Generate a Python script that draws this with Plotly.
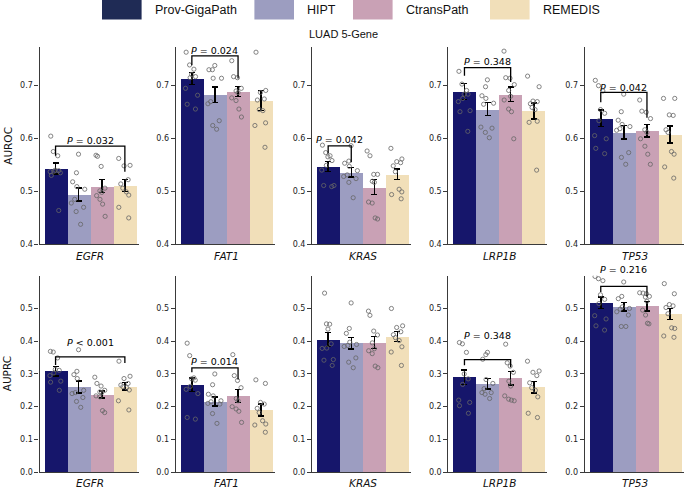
import plotly.graph_objects as go

# ---------------- data ----------------
GENES = ["EGFR", "FAT1", "KRAS", "LRP1B", "TP53"]
MODELS = ["Prov-GigaPath", "HIPT", "CtransPath", "REMEDIS"]
TITLE = "LUAD 5-Gene"

AUROC_MEAN = [
    [0.543, 0.494, 0.510, 0.511],
    [0.7125, 0.682, 0.688, 0.671],
    [0.5466, 0.536, 0.508, 0.5323],
    [0.688, 0.655, 0.683, 0.6516],
    [0.638, 0.611, 0.614, 0.607],
]
AUROC_SEM = [
    [0.010, 0.012, 0.012, 0.011],
    [0.0116, 0.0147, 0.009, 0.019],
    [0.0093, 0.0087, 0.0143, 0.0102],
    [0.0147, 0.0125, 0.0137, 0.015],
    [0.0155, 0.0127, 0.0118, 0.016],
]
AUPRC_MEAN = [
    [0.3085, 0.260, 0.237, 0.262],
    [0.267, 0.2157, 0.233, 0.1895],
    [0.405, 0.394, 0.396, 0.414],
    [0.290, 0.270, 0.287, 0.260],
    [0.518, 0.505, 0.507, 0.483],
]
AUPRC_SEM = [
    [0.015, 0.018, 0.011, 0.0116],
    [0.021, 0.0136, 0.020, 0.018],
    [0.021, 0.0176, 0.0186, 0.015],
    [0.0227, 0.0156, 0.020, 0.0176],
    [0.0176, 0.0126, 0.015, 0.017],
]

# per-fold values (gene -> model -> folds)
AUROC_FOLDS = {
    "EGFR": [
        [0.604, 0.575, 0.567, 0.540, 0.539, 0.538, 0.537, 0.535, 0.530, 0.464],
        [0.570, 0.535, 0.518, 0.509, 0.504, 0.485, 0.478, 0.470, 0.462, 0.438],
        [0.568, 0.566, 0.547, 0.506, 0.501, 0.498, 0.492, 0.485, 0.476, 0.453],
        [0.562, 0.549, 0.548, 0.522, 0.514, 0.506, 0.499, 0.493, 0.470, 0.450],
    ],
    "FAT1": [
        [0.762, 0.738, 0.730, 0.720, 0.716, 0.714, 0.694, 0.681, 0.664, 0.655],
        [0.737, 0.729, 0.729, 0.713, 0.713, 0.669, 0.665, 0.633, 0.624, 0.617],
        [0.746, 0.716, 0.714, 0.694, 0.689, 0.686, 0.676, 0.671, 0.655, 0.640],
        [0.762, 0.690, 0.686, 0.674, 0.672, 0.654, 0.652, 0.629, 0.624, 0.583],
    ],
    "KRAS": [
        [0.587, 0.573, 0.567, 0.565, 0.558, 0.549, 0.540, 0.511, 0.511, 0.509],
        [0.586, 0.557, 0.553, 0.547, 0.539, 0.531, 0.528, 0.524, 0.517, 0.488],
        [0.576, 0.567, 0.532, 0.532, 0.519, 0.517, 0.480, 0.478, 0.450, 0.448],
        [0.581, 0.561, 0.556, 0.554, 0.548, 0.537, 0.504, 0.499, 0.494, 0.486],
    ],
    "LRP1B": [
        [0.726, 0.702, 0.690, 0.683, 0.683, 0.675, 0.669, 0.652, 0.650, 0.613],
        [0.710, 0.697, 0.680, 0.675, 0.666, 0.664, 0.621, 0.619, 0.611, 0.601],
        [0.764, 0.714, 0.713, 0.701, 0.690, 0.679, 0.672, 0.655, 0.650, 0.599],
        [0.717, 0.697, 0.670, 0.669, 0.665, 0.658, 0.654, 0.632, 0.630, 0.540],
    ],
    "TP53": [
        [0.709, 0.699, 0.689, 0.654, 0.647, 0.633, 0.605, 0.599, 0.581, 0.571],
        [0.683, 0.650, 0.634, 0.626, 0.622, 0.618, 0.615, 0.573, 0.564, 0.551],
        [0.672, 0.651, 0.637, 0.649, 0.616, 0.611, 0.599, 0.585, 0.570, 0.551],
        [0.675, 0.675, 0.644, 0.643, 0.616, 0.611, 0.575, 0.570, 0.546, 0.525],
    ],
}
AUPRC_FOLDS = {
    "EGFR": [
        [0.369, 0.367, 0.349, 0.314, 0.311, 0.303, 0.295, 0.278, 0.275, 0.250],
        [0.374, 0.308, 0.298, 0.286, 0.250, 0.243, 0.240, 0.228, 0.216, 0.198],
        [0.290, 0.271, 0.263, 0.250, 0.245, 0.243, 0.233, 0.230, 0.188, 0.182],
        [0.339, 0.293, 0.286, 0.271, 0.266, 0.261, 0.258, 0.251, 0.218, 0.190],
    ],
    "FAT1": [
        [0.394, 0.356, 0.288, 0.285, 0.281, 0.262, 0.253, 0.240, 0.167, 0.162],
        [0.300, 0.267, 0.238, 0.233, 0.218, 0.215, 0.210, 0.208, 0.179, 0.149],
        [0.359, 0.295, 0.280, 0.258, 0.225, 0.218, 0.200, 0.193, 0.186, 0.152],
        [0.282, 0.271, 0.213, 0.208, 0.195, 0.182, 0.157, 0.147, 0.144, 0.122],
    ],
    "KRAS": [
        [0.547, 0.453, 0.452, 0.437, 0.392, 0.379, 0.378, 0.344, 0.342, 0.326],
        [0.517, 0.439, 0.424, 0.397, 0.390, 0.387, 0.384, 0.349, 0.336, 0.319],
        [0.492, 0.479, 0.431, 0.419, 0.395, 0.377, 0.371, 0.362, 0.324, 0.319],
        [0.500, 0.447, 0.442, 0.429, 0.420, 0.411, 0.402, 0.383, 0.367, 0.326],
    ],
    "LRP1B": [
        [0.396, 0.392, 0.366, 0.300, 0.285, 0.268, 0.220, 0.213, 0.203, 0.180],
        [0.366, 0.359, 0.345, 0.283, 0.271, 0.255, 0.243, 0.243, 0.238, 0.225],
        [0.391, 0.334, 0.324, 0.305, 0.278, 0.263, 0.233, 0.223, 0.220, 0.218],
        [0.339, 0.309, 0.305, 0.295, 0.273, 0.258, 0.250, 0.230, 0.180, 0.167],
    ],
    "TP53": [
        [0.598, 0.591, 0.585, 0.542, 0.528, 0.515, 0.478, 0.468, 0.447, 0.434],
        [0.581, 0.537, 0.530, 0.505, 0.500, 0.498, 0.490, 0.480, 0.445, 0.445],
        [0.548, 0.547, 0.545, 0.537, 0.535, 0.522, 0.495, 0.480, 0.455, 0.453],
        [0.576, 0.545, 0.512, 0.508, 0.503, 0.484, 0.441, 0.439, 0.416, 0.412],
    ],
}

# significance brackets: gene, model i, model j, left leg end, bracket level, right leg end, label, label level
AUROC_BRACKETS = [
    ("EGFR", 0, 3, 0.567, 0.585, 0.537, "<i>P</i> = 0.032", 0.596),
    ("FAT1", 0, 2, 0.7375, 0.755, 0.7125, "<i>P</i> = 0.024", 0.7656),
    ("KRAS", 0, 1, 0.5714, 0.5857, 0.5547, "<i>P</i> = 0.042", 0.5975),
    ("LRP1B", 0, 2, 0.7175, 0.733, 0.706, "<i>P</i> = 0.348", 0.744),
    ("TP53", 0, 2, 0.6677, 0.6863, 0.6385, "<i>P</i> = 0.042", 0.6957),
]
AUPRC_BRACKETS = [
    ("EGFR", 0, 3, 0.3276, 0.352, 0.3337, "<i>P</i> &lt; 0.001", 0.396),
    ("FAT1", 0, 2, 0.3054, 0.3185, 0.283, "<i>P</i> = 0.014", 0.3387),
    ("LRP1B", 0, 2, 0.3266, 0.3438, 0.3206, "<i>P</i> = 0.348", 0.417),
    ("TP53", 0, 2, 0.5504, 0.5675, 0.537, "<i>P</i> = 0.216", 0.618),
]

# ---------------- style ----------------
BAR_COLORS = ["#16166b", "#9c9dc1", "#c9a1b5", "#f1dfb9"]
LEGEND_COLORS = ["#1f2b55", "#9c9dc0", "#c9a1b5", "#f1dfb9"]
W, H = 688, 491
FONT = "DejaVu Sans"
LFONT = "Liberation Sans, Arial, sans-serif"
AX_COLOR = "#3a3a3a"

PANEL_X0, PANEL_STEP, PANEL_W = 39.5, 136.3, 99.0
ROWS = [
    dict(metric="AUROC", means=AUROC_MEAN, sems=AUROC_SEM, folds=AUROC_FOLDS,
         brackets=AUROC_BRACKETS, top=47.0, bottom=247.0, yrange=[0.4, 0.7727],
         ticks=[0.4, 0.5, 0.6, 0.7], label_y=259.0),
    dict(metric="AUPRC", means=AUPRC_MEAN, sems=AUPRC_SEM, folds=AUPRC_FOLDS,
         brackets=AUPRC_BRACKETS, top=278.6, bottom=477.0, yrange=[0.0, 0.6],
         ticks=[0.0, 0.1, 0.2, 0.3, 0.4, 0.5], label_y=487.5),
]
XRANGE = [-0.695, 3.59]

fig = go.Figure()
layout = {}
annotations = []
shapes = []

for r, row in enumerate(ROWS):
    y_lo, y_hi = row["yrange"]
    for c, gene in enumerate(GENES):
        n = r * 5 + c + 1
        xa = "x" if n == 1 else f"x{n}"
        ya = "y" if n == 1 else f"y{n}"
        xk = "xaxis" if n == 1 else f"xaxis{n}"
        yk = "yaxis" if n == 1 else f"yaxis{n}"
        x0 = PANEL_X0 + PANEL_STEP * c
        layout[xk] = dict(
            domain=[x0 / W, (x0 + PANEL_W) / W], range=XRANGE, anchor=ya,
            showline=True, linecolor=AX_COLOR, linewidth=1.2, ticks="",
            showticklabels=False, showgrid=False, zeroline=False, fixedrange=True,
        )
        layout[yk] = dict(
            domain=[1 - row["bottom"] / H, 1 - row["top"] / H], range=row["yrange"],
            anchor=xa, showline=True, linecolor=AX_COLOR, linewidth=1.2,
            ticks="outside", ticklen=4, tickwidth=1, tickcolor=AX_COLOR,
            tickvals=row["ticks"], tickformat=".1f",
            tickfont=dict(family=FONT, size=8, color="#222"),
            showgrid=False, zeroline=False, fixedrange=True,
        )
        fig.add_trace(go.Bar(
            x=list(range(len(MODELS))), y=row["means"][c], width=1.0,
            marker=dict(color=BAR_COLORS, line=dict(width=0)),
            error_y=dict(type="data", array=row["sems"][c], color="black",
                         thickness=1.5, width=3),
            xaxis=xa, yaxis=ya, showlegend=False, hoverinfo="y",
        ))
        folds = row["folds"][gene]
        xs = [k for k in range(len(MODELS)) for _ in folds[k]]
        ys = [v for k in range(len(MODELS)) for v in folds[k]]
        fig.add_trace(go.Box(
            x=xs, y=ys, boxpoints="all", jitter=0.9, pointpos=0, width=0.75,
            line=dict(width=0, color="rgba(0,0,0,0)"), fillcolor="rgba(0,0,0,0)",
            marker=dict(symbol="circle-open", size=4.2, color="#666666",
                        line=dict(width=0.8)),
            xaxis=xa, yaxis=ya, showlegend=False, hoverinfo="y",
        ))
        # gene label
        annotations.append(dict(
            text=f"<i>{gene}</i>", xref=xa, x=1.5, yref="paper",
            y=1 - row["label_y"] / H, yanchor="middle", xanchor="center",
            showarrow=False, font=dict(family=FONT, size=10.5, color="#111"),
        ))
        # brackets
        for (g, i, j, le, top, re, lab, laby) in row["brackets"]:
            if g != gene:
                continue
            fig.add_trace(go.Scatter(
                x=[i, i, j, j], y=[le, top, top, re], mode="lines",
                line=dict(color="black", width=1.3), xaxis=xa, yaxis=ya,
                showlegend=False, hoverinfo="skip", cliponaxis=False,
            ))
            annotations.append(dict(
                text=lab, xref=xa, yref=f"{ya} domain", x=(i + j) / 2,
                y=(laby - y_lo) / (y_hi - y_lo),
                xanchor="center", yanchor="middle", showarrow=False,
                font=dict(family=FONT, size=9.5, color="black"),
            ))
    # metric label
    annotations.append(dict(
        text=row["metric"], xref="paper", yref="paper", x=7.3 / W,
        y=1 - (row["top"] + row["bottom"]) / 2 / H, textangle=-90,
        xanchor="center", yanchor="middle", showarrow=False,
        font=dict(family=FONT, size=10.5, color="#111"),
    ))

# title
annotations.append(dict(
    text=TITLE, xref="paper", yref="paper", x=343.5 / W, y=1 - 34.5 / H,
    xanchor="center", yanchor="middle", showarrow=False,
    font=dict(family=LFONT, size=11, color="#111"),
))

# legend (patches + labels)
LEG_START = [102.0, 254.4, 353.0, 490.0]
for k, name in enumerate(MODELS):
    px = LEG_START[k]
    shapes.append(dict(
        type="rect", xref="paper", yref="paper", x0=px / W, x1=(px + 39.6) / W,
        y0=1 - 19.6 / H, y1=1.0, fillcolor=LEGEND_COLORS[k], line=dict(width=0),
    ))
    annotations.append(dict(
        text=name, xref="paper", yref="paper", x=(px + 50.6) / W, y=1 - 9.6 / H,
        xanchor="left", yanchor="middle", showarrow=False,
        font=dict(family=LFONT, size=12.5, color="#111"),
    ))

fig.update_layout(
    width=W, height=H, margin=dict(l=0, r=0, t=0, b=0),
    paper_bgcolor="white", plot_bgcolor="white",
    annotations=annotations, shapes=shapes, showlegend=False,
    bargap=0, **layout,
)
fig.write_html(
    "out.html",
    config={"displayModeBar": False},
    post_script="document.body.style.margin='0';document.body.style.overflow='hidden';",
)
